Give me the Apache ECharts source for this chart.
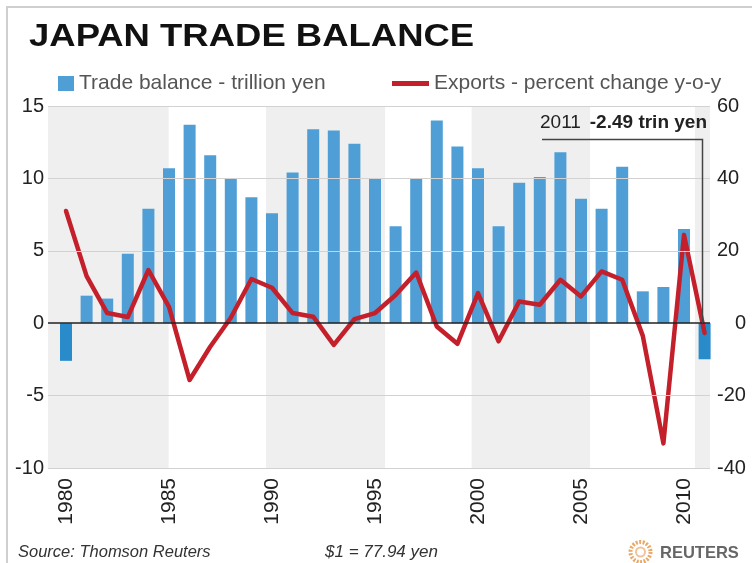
<!DOCTYPE html>
<html><head><meta charset="utf-8">
<script src="https://cdn.jsdelivr.net/npm/echarts@6/dist/echarts.min.js"></script>
<style>html,body{margin:0;padding:0;background:#fff}#c{width:752px;height:563px}</style>
</head><body><div id="c"></div>
<script>
// ---- data ----
const years = [1980,1981,1982,1983,1984,1985,1986,1987,1988,1989,1990,1991,1992,1993,1994,1995,1996,1997,1998,1999,2000,2001,2002,2003,2004,2005,2006,2007,2008,2009,2010,2011];
const tradeBalance = [-2.6,1.9,1.7,4.8,7.9,10.7,13.7,11.6,10.0,8.7,7.6,10.4,13.4,13.3,12.4,10.0,6.7,10.0,14.0,12.2,10.7,6.7,9.7,10.1,11.8,8.6,7.9,10.8,2.2,2.5,6.5,-2.49];
const exportsYoY = [31,13,2.8,1.7,14.7,4.5,-15.7,-6.5,1.5,12.2,9.8,2.8,1.8,-6.0,1.1,2.8,7.8,14.0,-0.9,-5.7,8.3,-5.0,6.0,5.1,12.0,7.4,14.3,12.0,-3.5,-33.2,24.4,-2.7];
const yearLabels = [1980,1985,1990,1995,2000,2005,2010];
const leftTicks = [-10,-5,0,5,10,15];
const rightTicks = [-40,-20,0,20,40,60];
const shadedBands = [[1979.126,1984.98],[1989.71,1995.49],[1999.69,2005.44],[2010.53,2011.262]];
const seriesNames = ['Trade balance - trillion yen','Exports - percent change y-o-y'];
const titleText = 'JAPAN TRADE BALANCE';
const noteYear = '2011';
const noteValue = '-2.49 trin yen';
const sourceText = 'Source: Thomson Reuters';
const rateText = '$1 = 77.94 yen';

const FF = '"Liberation Sans", Arial, sans-serif';
const BAR = '#4f9fd6', BAR_NEG = '#2a8bcb', RED = '#c4202b';
const chart = echarts.init(document.getElementById('c'));

const barData = years.map((y,i)=>[y, tradeBalance[i]]);
const lineData = years.map((y,i)=>[y, exportsYoY[i]]);

chart.setOption({
  animation:false,
  backgroundColor:'#ffffff',
  textStyle:{fontFamily:FF},
  grid:{left:48, right:42, top:106, bottom:95},
  legend:[
    {data:[{name:seriesNames[0], icon:'rect', itemStyle:{color:BAR}}], left:53, top:68, itemWidth:16, itemHeight:15,
     textStyle:{fontSize:21, color:'#555', fontFamily:FF}, selectedMode:false},
    {data:[{name:seriesNames[1], icon:'rect', itemStyle:{color:RED}}], left:387, top:68, itemWidth:37, itemHeight:5,
     textStyle:{fontSize:21, color:'#555', fontFamily:FF}, selectedMode:false}
  ],
  xAxis:{type:'value', min:1979.126, max:2011.262,
    axisLine:{show:false}, axisTick:{show:false}, splitLine:{show:false},
    axisLabel:{customValues:yearLabels, rotate:90, fontSize:21, color:'#222', margin:10, fontFamily:FF,
      formatter:v=>String(v)}},
  yAxis:[
    {type:'value', min:leftTicks[0], max:leftTicks[leftTicks.length-1], interval:5,
     axisLine:{show:false}, axisTick:{show:false}, splitLine:{show:false},
     axisLabel:{fontSize:20, color:'#222', margin:4, fontFamily:FF}},
    {type:'value', position:'right', min:rightTicks[0], max:rightTicks[rightTicks.length-1], interval:20,
     axisLine:{show:false}, axisTick:{show:false}, splitLine:{show:false},
     axisLabel:{fontSize:20, color:'#222', margin:7, align:'left', fontFamily:FF,
       formatter:v=> v===0 ? '{z|0}' : String(v),
       rich:{z:{padding:[0,0,0,18], fontSize:20, color:'#222', fontFamily:FF}}}}
  ],
  series:[
    {type:'line', data:[], z:1, silent:true,
     markArea:{silent:true, itemStyle:{color:'#efefef'},
       data:shadedBands.map(b=>[{xAxis:b[0]},{xAxis:b[1]}])},
     markLine:{silent:true, symbol:['none','none'], label:{show:false},
       lineStyle:{color:'#d2d2d2', width:1, type:'solid'},
       data:leftTicks.filter(t=>t!==0).map(t=>({yAxis:t}))}},
    {name:seriesNames[0], type:'bar', data:barData, barWidth:12, z:2,
     itemStyle:{color:p=> p.value[1]<0 ? BAR_NEG : BAR}},
    {type:'line', data:[], z:3, silent:true,
     markLine:{silent:true, symbol:['none','none'], label:{show:false},
       lineStyle:{color:'#222', width:1.5, type:'solid'}, data:[{yAxis:0}]}},
    {name:seriesNames[1], type:'line', yAxisIndex:1, data:lineData, z:4, symbol:'none',
     lineStyle:{color:RED, width:4.5, join:'round', cap:'round'}, itemStyle:{color:RED}}
  ]
});

const zeroY = chart.convertToPixel({yAxisIndex:0}, 0);
chart.setOption({
  graphic:[
    {type:'rect', shape:{x:7,y:7,width:800,height:600}, style:{fill:'none', stroke:'#cfcfcf', lineWidth:2}, silent:true},
    {type:'text', x:29, y:37, scaleX:1.14, style:{text:titleText, font:'bold 32px '+FF, fill:'#111', verticalAlign:'middle'}},
    {type:'text', x:540, y:123, z:20, style:{text:noteYear, font:'19px '+FF, fill:'#222', verticalAlign:'middle', align:'left'}},
    {type:'text', x:707, y:123, z:20, style:{text:noteValue, font:'bold 19px '+FF, fill:'#222', verticalAlign:'middle', align:'right'}},
    {type:'polyline', shape:{points:[[542,139.5],[702.5,139.5],[702.5,zeroY]]}, style:{stroke:'#444', lineWidth:1.5, fill:'none'}, z:10},
    {type:'text', x:18, y:552, style:{text:sourceText, font:'italic 16.5px '+FF, fill:'#333', verticalAlign:'middle'}},
    {type:'text', x:325, y:552, style:{text:rateText, font:'italic 17px '+FF, fill:'#333', verticalAlign:'middle'}},
    {type:'circle', shape:{cx:640.5, cy:552, r:10}, style:{fill:'none', stroke:'#e9a865', lineWidth:4, lineDash:[2,1.5]}},
    {type:'circle', shape:{cx:640.5, cy:552, r:4.5}, style:{fill:'none', stroke:'#f0c49a', lineWidth:2}},
    {type:'text', x:660, y:553, style:{text:'REUTERS', font:'bold 16.5px '+FF, fill:'#666', verticalAlign:'middle'}}
  ]
});
</script></body></html>
